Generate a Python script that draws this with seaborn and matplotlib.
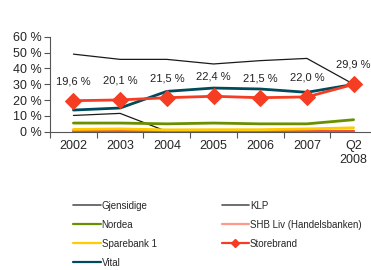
import matplotlib
matplotlib.use("Agg")
import matplotlib.pyplot as plt
from matplotlib.lines import Line2D
import seaborn as sns
import pandas as pd

categories = ["2002", "2003", "2004", "2005", "2006", "2007", "Q2\n2008"]
gjensidige = [49.0, 45.7, 45.7, 42.8, 44.9, 46.3, 30.0]
klp = [10.3, 11.6, 0.2, 0.2, 0.2, 0.2, 0.2]
nordea = [5.5, 5.5, 5.0, 5.5, 5.0, 5.0, 7.6]
shb = [0.2, 0.2, 0.2, 0.2, 0.2, 0.2, 0.2]
sparebank = [1.5, 1.8, 1.2, 1.3, 1.3, 1.8, 2.5]
storebrand = [19.6, 20.1, 21.5, 22.4, 21.5, 22.0, 29.9]
vital = [13.7, 15.0, 25.5, 27.6, 27.0, 24.9, 29.9]
store_labels = ["19,6 %", "20,1 %", "21,5 %", "22,4 %", "21,5 %", "22,0 %", "29,9 %"]
yticks = [0, 10, 20, 30, 40, 50, 60]

sns.set_style("white")
plt.rcParams["font.family"] = ["Liberation Sans", "DejaVu Sans"]

fig = plt.figure(figsize=(3.71, 2.70), dpi=100)
ax = fig.add_axes([0.135, 0.512, 0.881, 0.352])

series = [
    ("Gjensidige", gjensidige, "#1a1a1a", 0.9),
    ("KLP", klp, "#1a1a1a", 0.9),
    ("SHB Liv (Handelsbanken)", shb, "#f2503a", 1.6),
    ("Sparebank 1", sparebank, "#ffcc00", 2.0),
    ("Nordea", nordea, "#6a9000", 2.0),
    ("Vital", vital, "#004a5c", 2.0),
]
x = list(range(len(categories)))
for name, vals, col, lw in series:
    df = pd.DataFrame({"x": x, "y": vals})
    sns.lineplot(data=df, x="x", y="y", color=col, lw=lw, ax=ax, legend=False)

df = pd.DataFrame({"x": x, "y": storebrand})
sns.lineplot(data=df, x="x", y="y", color="#f43d22", lw=2.0, marker="D",
             markersize=8, markeredgecolor="#f43d22", ax=ax, legend=False)
for xi, yi, lab in zip(x, storebrand, store_labels):
    ax.annotate(lab, (xi, yi), xytext=(0, 14), textcoords="offset points",
                ha="center", va="center", fontsize=8, color="#222222")

ax.set_xlim(-0.5, 6.5)
ax.set_ylim(0, 60)
ax.set_yticks(yticks)
ax.set_yticklabels([f"{v} %" for v in yticks], fontsize=9)
ax.set_xticks([i + 0.5 for i in range(-1, 6)])
ax.set_xticklabels([])
ax.set_xticks(x, minor=True)
ax.set_xticklabels(categories, minor=True, fontsize=9)
ax.tick_params(axis="x", which="minor", length=0, pad=6)
ax.tick_params(axis="x", which="major", length=4, direction="out", color="#555555", bottom=True)
ax.tick_params(axis="y", length=4, direction="out", color="#555555", left=True, pad=2)
ax.set_xlabel("")
ax.set_ylabel("")
sns.despine(ax=ax)
ax.spines["left"].set_color("#555555")
ax.spines["bottom"].set_color("#555555")
ax.spines["left"].set_linewidth(0.8)
ax.spines["bottom"].set_linewidth(0.8)

handles = [
    Line2D([], [], color="#555555", lw=1.2),
    Line2D([], [], color="#6a9000", lw=1.6),
    Line2D([], [], color="#ffcc00", lw=1.6),
    Line2D([], [], color="#004a5c", lw=1.6),
    Line2D([], [], color="#555555", lw=1.2),
    Line2D([], [], color="#ff9a8a", lw=1.6),
    Line2D([], [], color="#f43d22", lw=1.6, marker="D", markersize=4),
]
labels = ["Gjensidige", "Nordea", "Sparebank 1", "Vital", "KLP",
          "SHB Liv (Handelsbanken)", "Storebrand"]
fig.legend(handles, labels, ncol=2, loc="upper left", bbox_to_anchor=(0.198, 0.257),
           frameon=False, fontsize=7, handlelength=2.8, handletextpad=0.1,
           columnspacing=6.7, labelspacing=0.93, borderaxespad=0, borderpad=0)

fig.savefig("out.png", dpi=100)
